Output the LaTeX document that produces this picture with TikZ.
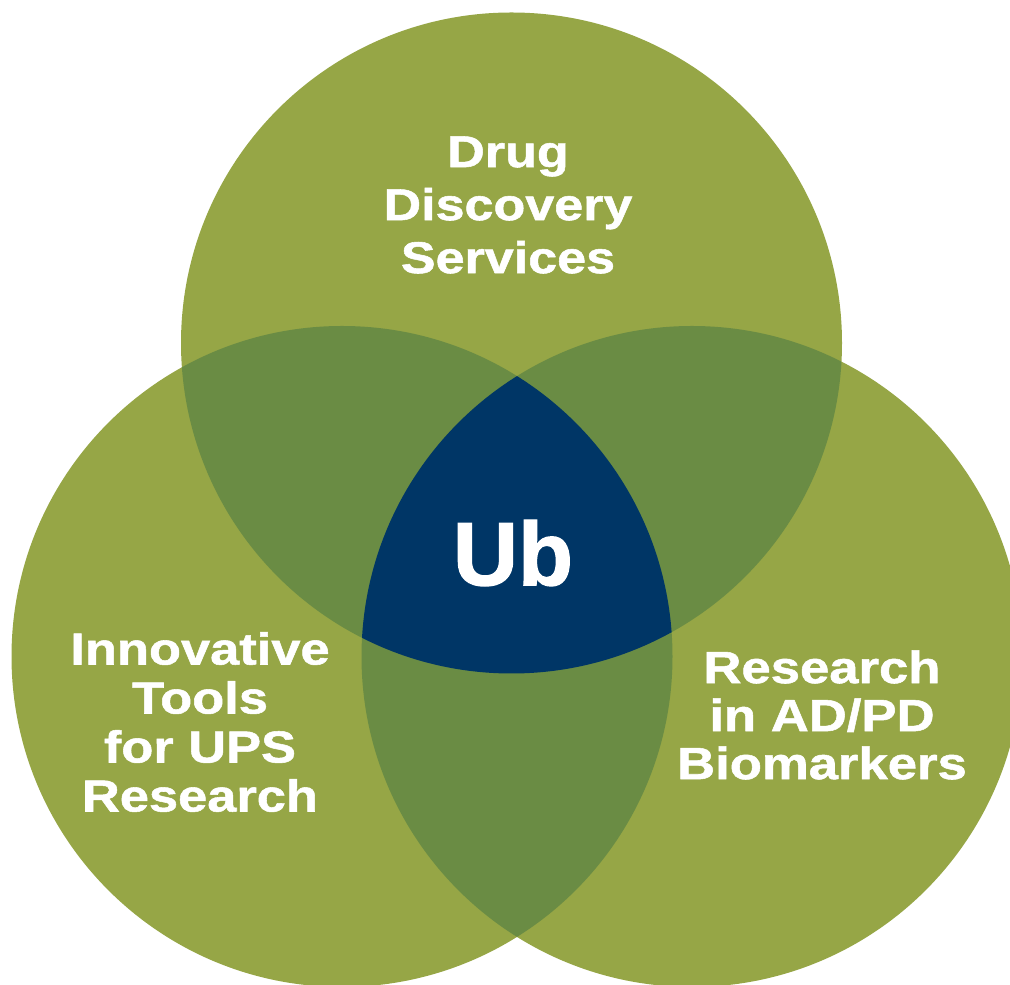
\documentclass[tikz,border=0pt]{standalone}
\usepackage{fontspec}
\setmainfont{Liberation Sans}
\newfontfamily\labelfont[FakeStretch=1.17,FakeBold=1.2]{Liberation Sans Bold}
\newfontfamily\ubfont[FakeBold=1.5]{Liberation Sans Bold}
\definecolor{lightolive}{HTML}{96A646}
\definecolor{darkolive}{HTML}{6A8C44}
\definecolor{navyub}{HTML}{003666}
\tikzset{
  lbl/.style={text=white, align=center, inner sep=0pt},
}
\begin{document}
\begin{tikzpicture}[x=1pt,y=1pt]
\useasboundingbox (0,0) rectangle (1010,985);
\clip (0,0) rectangle (1010,985);
\coordinate (ctop) at (511.5,642);
\coordinate (cleft) at (342,328.5);
\coordinate (cright) at (692,328.5);
\def\R{330.5}
% base circles
\fill[lightolive] (ctop) circle (\R);
\fill[lightolive] (cleft) circle (\R);
\fill[lightolive] (cright) circle (\R);
% pairwise overlaps
\begin{scope}
  \clip (ctop) circle (\R);
  \fill[darkolive] (cleft) circle (\R);
  \fill[darkolive] (cright) circle (\R);
\end{scope}
\begin{scope}
  \clip (cleft) circle (\R);
  \fill[darkolive] (cright) circle (\R);
\end{scope}
% triple overlap
\begin{scope}
  \clip (ctop) circle (\R);
  \clip (cleft) circle (\R);
  \fill[navyub] (cright) circle (\R);
\end{scope}
% labels
\node[lbl, font=\labelfont\fontsize{44.5}{53}\selectfont] (drug) at (508,780) {Drug\\Discovery\\Services};
\node[lbl, font=\labelfont\fontsize{44.8}{49}\selectfont] (tools) at (200,263) {Innovative\\Tools\\for UPS\\Research};
\node[lbl, font=\labelfont\fontsize{45}{48}\selectfont] (biom) at (822,270) {Research\\in AD/PD\\Biomarkers};
\node[lbl, font=\ubfont\fontsize{90}{90}\selectfont] (ub) at (513,432) {Ub};
\end{tikzpicture}
\end{document}
